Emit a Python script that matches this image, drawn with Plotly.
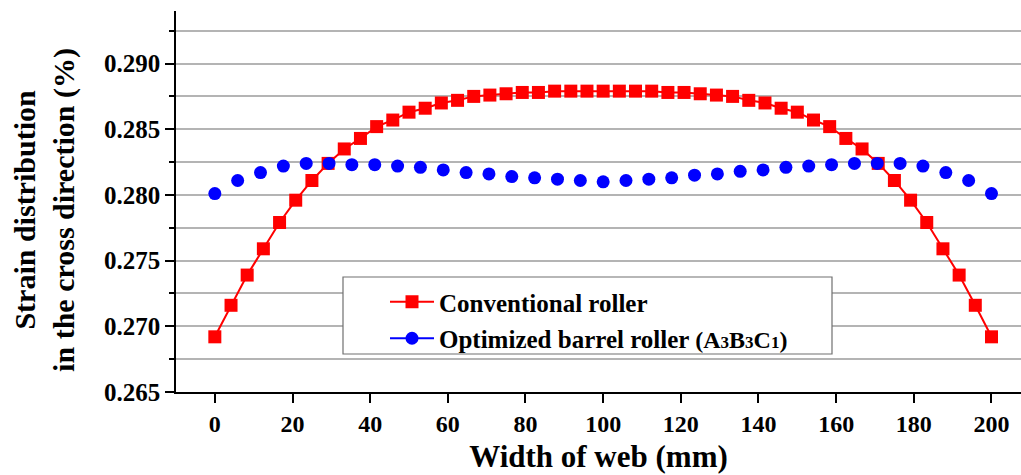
import plotly.graph_objects as go

# ---------------- data ----------------
x_conv = [0, 4.17, 8.33, 12.5, 16.67, 20.83, 25, 29.17, 33.33, 37.5, 41.67, 45.83,
          50, 54.17, 58.33, 62.5, 66.67, 70.83, 75, 79.17, 83.33, 87.5, 91.67, 95.83,
          100, 104.17, 108.33, 112.5, 116.67, 120.83, 125, 129.17, 133.33, 137.5,
          141.67, 145.83, 150, 154.17, 158.33, 162.5, 166.67, 170.83, 175, 179.17,
          183.33, 187.5, 191.67, 195.83, 200]
y_conv = [0.2692, 0.2716, 0.2739, 0.2759, 0.2779, 0.2796, 0.2811, 0.2824, 0.2835,
          0.2843, 0.2852, 0.2857, 0.2863, 0.2866, 0.2870, 0.2872, 0.2875, 0.2876,
          0.2877, 0.2878, 0.2878, 0.2879, 0.2879, 0.2879, 0.2879,
          0.2879, 0.2879, 0.2879, 0.2878, 0.2878, 0.2877, 0.2876, 0.2875, 0.2872,
          0.2870, 0.2866, 0.2863, 0.2857, 0.2852, 0.2843, 0.2835, 0.2824, 0.2811,
          0.2796, 0.2779, 0.2759, 0.2739, 0.2716, 0.2692]

x_opt = [0, 5.88, 11.76, 17.65, 23.53, 29.41, 35.29, 41.18, 47.06, 52.94, 58.82,
         64.71, 70.59, 76.47, 82.35, 88.24, 94.12, 100, 105.88, 111.76, 117.65,
         123.53, 129.41, 135.29, 141.18, 147.06, 152.94, 158.82, 164.71, 170.59,
         176.47, 182.35, 188.24, 194.12, 200]
y_opt = [0.2801, 0.2811, 0.2817, 0.2822, 0.2824, 0.2824, 0.2823, 0.2823, 0.2822,
         0.2821, 0.2819, 0.2817, 0.2816, 0.2814, 0.2813, 0.2812, 0.2811, 0.2810,
         0.2811, 0.2812, 0.2813, 0.2815, 0.2816, 0.2818, 0.2819, 0.2821, 0.2822,
         0.2823, 0.2824, 0.2824, 0.2824, 0.2822, 0.2817, 0.2811, 0.2801]

name_conv = "Conventional roller"
_big = '<span style="font-size:24px">{}</span>'
_small = '<span style="font-size:17px">{}</span>'
name_opt = ("Optimized barrel roller " + _big.format("(A") + _small.format("3")
            + _big.format("B") + _small.format("3") + _big.format("C")
            + _small.format("1") + _big.format(")"))

x_title = "Width of web (mm)"
y_title = "Strain distribution<br>in the cross direction (%)"

FONT = "Liberation Serif"
RED = "#ff0000"
BLUE = "#0000ff"
GRID = "#b4b4b4"

fig = go.Figure()
fig.add_trace(go.Scatter(
    x=x_conv, y=y_conv, mode="lines+markers", name=name_conv,
    line=dict(color=RED, width=2),
    marker=dict(symbol="square", size=13, color=RED),
    legendgroup="a",
))
fig.add_trace(go.Scatter(
    x=x_opt, y=y_opt, mode="markers", name=name_opt, showlegend=False,
    marker=dict(symbol="circle", size=13, color=BLUE),
    legendgroup="b",
))
# legend entry for the optimized roller (line + marker sample)
fig.add_trace(go.Scatter(
    x=[None], y=[None], mode="lines+markers", name=name_opt,
    line=dict(color=BLUE, width=2),
    marker=dict(symbol="circle", size=13, color=BLUE),
    legendgroup="b",
))

W, H = 1021, 475
L, R, T, B = 176, 0, 11, 83
pw = W - L - R
ph = H - T - B

def px_x(p):
    return (p - L) / pw

def px_y(p):
    return (H - B - p) / ph

fig.add_shape(type="rect", xref="paper", yref="paper",
              x0=px_x(343), x1=px_x(832), y0=px_y(354), y1=px_y(277),
              fillcolor="white", line=dict(color="#707070", width=1.2),
              layer="above")

fig.add_annotation(text="<b>" + y_title + "</b>", xref="paper", yref="paper",
                   x=px_x(45), y=0.478, xanchor="center", yanchor="middle",
                   textangle=-90, showarrow=False,
                   font=dict(family=FONT, size=30, color="black"))

fig.update_layout(
    width=W, height=H,
    margin=dict(l=L, r=R, t=T, b=B, pad=0),
    paper_bgcolor="white", plot_bgcolor="white",
    font=dict(family=FONT, color="black"),
    showlegend=True,
    legend=dict(
        x=px_x(385), y=px_y(279), xanchor="left", yanchor="top",
        bgcolor="rgba(0,0,0,0)", borderwidth=0,
        font=dict(family=FONT, size=25, color="black", weight="bold"),
        itemwidth=44, tracegroupgap=1,
    ),
    xaxis=dict(
        range=[-10, 207.6], tick0=0, dtick=20,
        ticks="outside", ticklen=9, tickwidth=1.5, tickcolor="black",
        showline=True, linecolor="black", linewidth=1.5,
        showgrid=False, zeroline=False,
        tickfont=dict(family=FONT, size=24, color="black", weight="bold"),
        title=dict(text=x_title, standoff=10,
                   font=dict(family=FONT, size=31, color="black", weight="bold")),
    ),
    yaxis=dict(
        range=[0.265, 0.294], tick0=0.265, dtick=0.005, tickformat=".3f",
        ticks="outside", ticklen=9, tickwidth=1.5, tickcolor="black",
        showline=True, linecolor="black", linewidth=1.5,
        showgrid=True, gridcolor=GRID, gridwidth=1.5, zeroline=False,
        tickfont=dict(family=FONT, size=25, color="black", weight="bold"),
        minor=dict(tick0=0.265, dtick=0.0025, ticks="outside", ticklen=5,
                   tickwidth=1.5, tickcolor="black",
                   showgrid=True, gridcolor=GRID, gridwidth=1.5),
    ),
)

fig.write_html("out.html")
